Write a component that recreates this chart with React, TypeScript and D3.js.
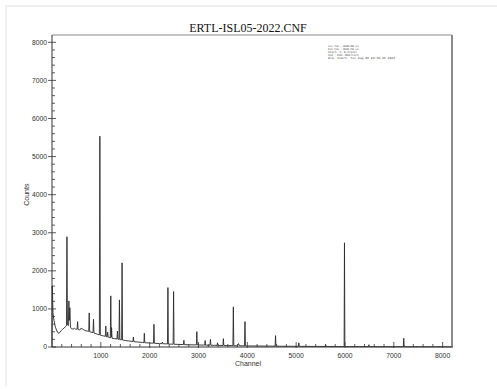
import React from "react";
import * as d3 from "d3";

const TITLE = "ERTL-ISL05-2022.CNF";
const X_LABEL = "Channel";
const Y_LABEL = "Counts";
const X_TICKS = [1000, 2000, 3000, 4000, 5000, 6000, 7000, 8000];
const Y_TICKS = [0, 1000, 2000, 3000, 4000, 5000, 6000, 7000, 8000];
const INFO_LINES = [
  "Live Time : 28800.000 sec",
  "Real Time : 28886.784 sec",
  "Start:     1:    0.2(keV)",
  "Stop : 8192: 2000.5(keV)",
  "Acq. Start: Tue Aug 09 08:58:29 2022",
];
const INFO_WIDTHS = [31, 31, 29, 31, 67];

// spectrum points: [channel, counts]
const SPECTRUM: [number, number][] = [
  [0, 0], [3, 1600], [8, 1550], [20, 900], [40, 700], [70, 520], [100, 420], [130, 360],
  [160, 380], [190, 430], [220, 470], [250, 500], [280, 540], [296, 560], [306, 2895], [316, 580],
  [335, 560], [346, 1210], [356, 700], [366, 1030], [378, 520], [400, 480], [430, 470], [460, 490],
  [480, 470], [514, 470], [524, 666], [534, 460], [560, 450], [590, 470], [600, 500], [620, 470],
  [640, 460], [680, 430], [720, 420], [752, 410], [762, 895], [772, 400], [800, 390], [840, 380],
  [850, 728], [860, 370], [900, 350], [940, 330], [970, 320], [980, 5535], [990, 310], [1020, 300],
  [1060, 290], [1092, 280], [1102, 552], [1112, 270], [1130, 265], [1140, 390], [1150, 260], [1194, 240],
  [1204, 1342], [1212, 260], [1220, 509], [1230, 230], [1280, 220], [1330, 210], [1340, 420], [1350, 205],
  [1372, 200], [1381, 1237], [1390, 195], [1426, 190], [1435, 2210], [1444, 185], [1500, 170], [1560, 160],
  [1620, 150], [1658, 145], [1667, 263], [1676, 140], [1760, 130], [1850, 120], [1882, 115], [1891, 360],
  [1900, 112], [1990, 105], [2079, 100], [2088, 596], [2097, 98], [2200, 90], [2250, 88], [2260, 130],
  [2270, 86], [2365, 80], [2374, 1561], [2383, 78], [2420, 76], [2481, 73], [2490, 1456], [2499, 72],
  [2600, 68], [2692, 64], [2701, 175], [2710, 62], [2800, 58], [2957, 55], [2966, 403], [2975, 54],
  [3050, 52], [3127, 50], [3136, 170], [3145, 49], [3180, 48], [3236, 47], [3245, 200], [3254, 46],
  [3330, 44], [3381, 43], [3390, 110], [3399, 42], [3501, 40], [3510, 220], [3519, 39], [3600, 37],
  [3705, 35], [3714, 1053], [3723, 34], [3800, 32], [3820, 90], [3840, 31], [3943, 30], [3952, 666],
  [3961, 29], [4000, 28], [4100, 27], [4200, 26], [4300, 25], [4400, 24], [4569, 22], [4578, 300],
  [4587, 22], [4700, 20], [4800, 20], [4900, 19], [5046, 18], [5055, 110], [5064, 18], [5200, 16],
  [5400, 15], [5597, 14], [5606, 55], [5615, 14], [5800, 13], [5900, 12], [5983, 12], [5990, 2737],
  [5998, 11], [6100, 10], [6300, 10], [6482, 9], [6490, 60], [6498, 9], [6700, 9], [7000, 8],
  [7195, 8], [7204, 230], [7213, 8], [7500, 7], [8000, 6], [8191, 5],
];

const W = 497;
const H = 389;
const M = { left: 52, right: 452, top: 35, bottom: 347 };

export default function App() {
  const x = d3.scaleLinear().domain([0, 8192]).range([M.left, M.right]);
  const y = d3.scaleLinear().domain([0, 8192]).range([M.bottom, M.top]);
  const line = d3
    .line<[number, number]>()
    .x((d) => x(d[0]))
    .y((d) => y(d[1]));

  const xMinor = d3.range(200, 8192, 200).filter((v) => v % 1000 !== 0);
  const yMinor = d3.range(200, 8192, 200).filter((v) => v % 1000 !== 0);
  const tickFont = "'Liberation Sans', Arial, sans-serif";

  return (
    <svg
      width={W}
      height={H}
      style={{ position: "absolute", left: 0, top: 0, background: "#fff" }}
    >
      {/* page frame */}
      <line x1={6} y1={6} x2={W} y2={6} stroke="#e2e2e2" strokeWidth={1} />
      <line x1={6} y1={6} x2={6} y2={387} stroke="#e2e2e2" strokeWidth={1} />

      <text
        x={248}
        y={32}
        textAnchor="middle"
        fontFamily="'Liberation Serif', 'Times New Roman', serif"
        fontSize={12}
        fill="#111"
      >
        {TITLE}
      </text>

      {/* spectrum */}
      <path d={line(SPECTRUM) || ""} fill="none" stroke="#2a2a2a" strokeWidth={0.9} />

      {/* frame */}
      <line x1={M.left} y1={M.top} x2={M.right} y2={M.top} stroke="#8a8a8a" strokeWidth={1.2} />
      <line x1={M.right} y1={M.top} x2={M.right} y2={M.bottom} stroke="#8a8a8a" strokeWidth={2} />
      <line x1={M.left} y1={M.top} x2={M.left} y2={M.bottom} stroke="#333" strokeWidth={1} />
      <line x1={M.left} y1={M.bottom} x2={M.right + 1} y2={M.bottom} stroke="#333" strokeWidth={1} />

      {/* x ticks */}
      {xMinor.map((v) => (
        <line key={"xm" + v} x1={x(v)} x2={x(v)} y1={M.bottom} y2={M.bottom - 3} stroke="#333" strokeWidth={0.8} />
      ))}
      {X_TICKS.map((v) => (
        <g key={"xt" + v}>
          <line x1={x(v)} x2={x(v)} y1={M.bottom + 1} y2={M.bottom - 5} stroke="#333" strokeWidth={0.8} />
          <text x={x(v)} y={358} textAnchor="middle" fontFamily={tickFont} fontSize={6.8} fill="#333">
            {v}
          </text>
        </g>
      ))}

      {/* y ticks */}
      {yMinor.map((v) => (
        <line key={"ym" + v} x1={M.left} x2={M.left + 3} y1={y(v)} y2={y(v)} stroke="#333" strokeWidth={0.8} />
      ))}
      {Y_TICKS.map((v) => (
        <g key={"yt" + v}>
          <line x1={M.left - 4} x2={M.left + 4} y1={y(v)} y2={y(v)} stroke="#333" strokeWidth={0.8} />
          <text
            x={M.left - 5}
            y={y(v)}
            dy="0.35em"
            textAnchor="end"
            fontFamily={tickFont}
            fontSize={6.8}
            fill="#333"
          >
            {v}
          </text>
        </g>
      ))}

      <text x={248} y={366} textAnchor="middle" fontFamily={tickFont} fontSize={7} fill="#333">
        {X_LABEL}
      </text>
      <text
        transform={`translate(29,${y(4000)}) rotate(-90)`}
        textAnchor="middle"
        fontFamily={tickFont}
        fontSize={7}
        fill="#333"
      >
        {Y_LABEL}
      </text>

      {/* info block */}
      {INFO_LINES.map((t, i) => (
        <text
          key={"info" + i}
          x={328}
          y={47 + i * 3}
          fontFamily="'DejaVu Sans Mono', monospace"
          fontSize={2.6}
          fill="#444"
          textLength={INFO_WIDTHS[i]}
          lengthAdjust="spacingAndGlyphs"
        >
          {t}
        </text>
      ))}
    </svg>
  );
}
